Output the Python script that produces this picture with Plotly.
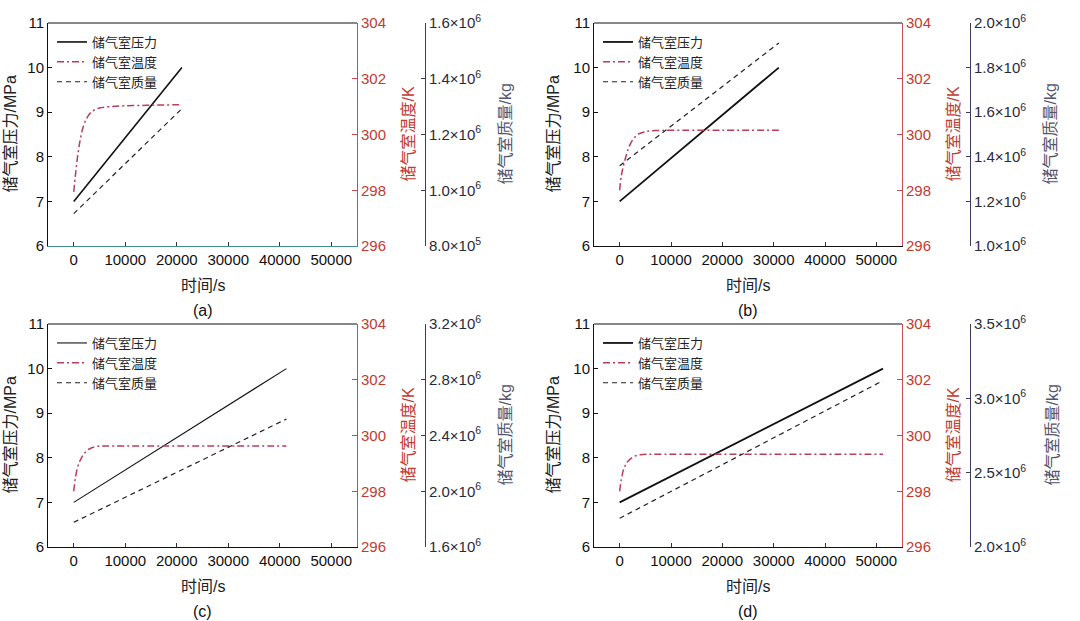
import plotly.graph_objects as go

OFF = 0
W, H = 1080, 621

# ---------------- data ----------------
panel_labels = ["(a)", "(b)", "(c)", "(d)"]

# pressure (MPa): start / end
p_time_a = [0, 21000];  p_val_a = [7.0, 10.0]
p_time_b = [0, 31000];  p_val_b = [7.0, 10.0]
p_time_c = [0, 41300];  p_val_c = [7.0, 10.0]
p_time_d = [0, 51300];  p_val_d = [7.0, 10.0]

# temperature (K)
t_time_a = [0, 300, 700, 1200, 1800, 2500, 3500, 5000, 7000, 10000, 15000, 21000]
t_val_a = [297.94, 298.5, 299.15, 299.75, 300.25, 300.58, 300.82, 300.95, 301.0, 301.03, 301.05, 301.07]
t_time_b = [0, 300, 700, 1200, 1800, 2700, 3700, 5000, 7000, 10000, 20000, 31000]
t_val_b = [298.0, 298.5, 298.85, 299.2, 299.55, 299.85, 300.02, 300.1, 300.14, 300.15, 300.15, 300.15]
t_time_c = [0, 300, 800, 1500, 2500, 3500, 4500, 6000, 10000, 20000, 41300]
t_val_c = [298.0, 298.45, 298.9, 299.2, 299.45, 299.56, 299.61, 299.62, 299.62, 299.62, 299.62]
t_time_d = [0, 300, 800, 1500, 2500, 3500, 4500, 6000, 10000, 30000, 51300]
t_val_d = [298.0, 298.4, 298.8, 299.05, 299.22, 299.29, 299.32, 299.33, 299.33, 299.33, 299.33]

# mass (kg)
m_time_a = [0, 21000];  m_val_a = [0.916e6, 1.293e6]
m_time_b = [0, 31000];  m_val_b = [1.36e6, 1.91e6]
m_time_c = [0, 41300];  m_val_c = [1.777e6, 2.518e6]
m_time_d = [0, 51300];  m_val_d = [2.193e6, 3.119e6]

x_ticks = [0, 10000, 20000, 30000, 40000, 50000]
x_tick_text = ["0", "10000", "20000", "30000", "40000", "50000"]
p_ticks = [6, 7, 8, 9, 10, 11]
t_ticks = [296, 298, 300, 302, 304]
m_ticks_a = [0.8e6, 1.0e6, 1.2e6, 1.4e6, 1.6e6]
m_text_a = ["8.0×10<sup>5</sup>", "1.0×10<sup>6</sup>", "1.2×10<sup>6</sup>", "1.4×10<sup>6</sup>", "1.6×10<sup>6</sup>"]
m_ticks_b = [1.0e6, 1.2e6, 1.4e6, 1.6e6, 1.8e6, 2.0e6]
m_text_b = ["1.0×10<sup>6</sup>", "1.2×10<sup>6</sup>", "1.4×10<sup>6</sup>", "1.6×10<sup>6</sup>", "1.8×10<sup>6</sup>", "2.0×10<sup>6</sup>"]
m_ticks_c = [1.6e6, 2.0e6, 2.4e6, 2.8e6, 3.2e6]
m_text_c = ["1.6×10<sup>6</sup>", "2.0×10<sup>6</sup>", "2.4×10<sup>6</sup>", "2.8×10<sup>6</sup>", "3.2×10<sup>6</sup>"]
m_ticks_d = [2.0e6, 2.5e6, 3.0e6, 3.5e6]
m_text_d = ["2.0×10<sup>6</sup>", "2.5×10<sup>6</sup>", "3.0×10<sup>6</sup>", "3.5×10<sup>6</sup>"]

names = ["储气室压力", "储气室温度", "储气室质量"]
x_title = "时间/s"
y1_title = "储气室压力/MPa"
y2_title = "储气室温度/K"
y3_title = "储气室质量/kg"

# ---------------- styling ----------------
FONT = "Liberation Sans, Arial, Noto Sans CJK SC, sans-serif"
RED_TXT = "#c23b30"
RED_LINE = "#c84a55"
TEMP_COL = "#b83c5c"
M_AX = "#3c3c5a"
M_TITLE = "#55556e"

panels = [
    dict(px=(p_time_a, p_val_a), tx=(t_time_a, t_val_a), mx=(m_time_a, m_val_a),
         mticks=(m_ticks_a, m_text_a), x0=48, x1=357, x3=425, top=23, bot=246,
         ttl_l=10, ttl_r=408, ttl_m=505, xline="#3f8f8f", pw=1.6),
    dict(px=(p_time_b, p_val_b), tx=(t_time_b, t_val_b), mx=(m_time_b, m_val_b),
         mticks=(m_ticks_b, m_text_b), x0=594, x1=902, x3=970, top=23, bot=246,
         ttl_l=553, ttl_r=953, ttl_m=1050, xline="#111111", pw=1.8),
    dict(px=(p_time_c, p_val_c), tx=(t_time_c, t_val_c), mx=(m_time_c, m_val_c),
         mticks=(m_ticks_c, m_text_c), x0=48, x1=357, x3=425, top=324, bot=547,
         ttl_l=10, ttl_r=408, ttl_m=505, xline="#111111", pw=1.1),
    dict(px=(p_time_d, p_val_d), tx=(t_time_d, t_val_d), mx=(m_time_d, m_val_d),
         mticks=(m_ticks_d, m_text_d), x0=594, x1=902, x3=970, top=324, bot=547,
         ttl_l=553, ttl_r=953, ttl_m=1052, xline="#111111", pw=1.8),
]

fig = go.Figure()
layout = dict(width=W, height=H, margin=dict(l=0, r=0, t=0, b=0, autoexpand=False),
              paper_bgcolor="white", plot_bgcolor="white",
              font=dict(family=FONT, size=15, color="#111"), showlegend=True)
annotations = []
shapes = []

def fx(px):
    return (px - OFF) / W

def fy(py):
    return 1 - (py - OFF) / H

for i, p in enumerate(panels):
    k = i + 1
    xid = "x" if k == 1 else f"x{k}"
    ya, yb, yc = 3 * i + 1, 3 * i + 2, 3 * i + 3
    yid = lambda n: "y" if n == 1 else f"y{n}"
    leg = "legend" if k == 1 else f"legend{k}"

    fig.add_trace(go.Scatter(x=p["px"][0], y=p["px"][1], mode="lines", name=names[0],
                             line=dict(color="#111", width=p["pw"]),
                             xaxis=xid, yaxis=yid(ya), legend=leg))
    fig.add_trace(go.Scatter(x=p["tx"][0], y=p["tx"][1], mode="lines", name=names[1],
                             line=dict(color=TEMP_COL, width=1.5, dash="7px,3px,2px,3px",
                                       shape="spline"),
                             xaxis=xid, yaxis=yid(yb), legend=leg))
    fig.add_trace(go.Scatter(x=p["mx"][0], y=p["mx"][1], mode="lines", name=names[2],
                             line=dict(color="#222", width=1.2, dash="5px,4px"),
                             xaxis=xid, yaxis=yid(yc), legend=leg))

    dom_x = [fx(p["x0"]), fx(p["x1"])]
    dom_y = [fy(p["bot"]), fy(p["top"])]
    xkey = "xaxis" if k == 1 else f"xaxis{k}"
    layout[xkey] = dict(domain=dom_x, anchor=yid(ya), range=[-5000, 55000],
                        tickvals=x_ticks, ticktext=x_tick_text,
                        ticks="inside", ticklen=4, tickcolor="#333",
                        showline=True, linecolor=p["xline"], linewidth=1,
                        showgrid=False, zeroline=False, automargin=False,
                        tickfont=dict(size=15, color="#111"))
    layout["yaxis" if ya == 1 else f"yaxis{ya}"] = dict(
        domain=dom_y, anchor=xid, range=[6, 11], tickvals=p_ticks,
        ticks="inside", ticklen=4, tickcolor="#111", showline=True, linecolor="#111",
        linewidth=1, showgrid=False, zeroline=False, automargin=False,
        tickfont=dict(size=15, color="#111"))
    layout[f"yaxis{yb}"] = dict(
        overlaying=yid(ya), anchor=xid, side="right", range=[296, 304], tickvals=t_ticks,
        ticks="inside", ticklen=5, tickcolor=RED_LINE, showline=True, linecolor=RED_LINE,
        linewidth=1, showgrid=False, zeroline=False, automargin=False,
        tickfont=dict(size=15, color=RED_TXT))
    layout[f"yaxis{yc}"] = dict(
        overlaying=yid(ya), anchor="free", position=fx(p["x3"]), side="right",
        range=[p["mticks"][0][0], p["mticks"][0][-1]],
        tickvals=p["mticks"][0], ticktext=p["mticks"][1],
        ticks="inside", ticklen=4, tickcolor=M_AX, showline=True, linecolor=M_AX,
        linewidth=1, showgrid=False, zeroline=False, automargin=False,
        tickfont=dict(size=15, color="#2a2a3a"))

    layout[leg] = dict(x=fx(p["x0"] + 4), y=fy(p["top"] + 4), xanchor="left", yanchor="top",
                       bgcolor="rgba(0,0,0,0)", borderwidth=0, tracegroupgap=0,
                       itemwidth=30, font=dict(size=13, color="#222",
                                               family="Noto Sans CJK SC, sans-serif"))

    # top frame line
    shapes.append(dict(type="line", xref=f"{xid} domain", yref=f"{yid(ya)} domain",
                       x0=0, x1=1, y0=1, y1=1, line=dict(color="#111", width=1)))

    cy = (p["top"] + p["bot"]) / 2
    cx = (p["x0"] + p["x1"]) / 2
    annotations += [
        dict(x=fx(p["ttl_l"]), y=fy(cy), xref="paper", yref="paper", text=y1_title,
             textangle=-90, showarrow=False, font=dict(size=16, color="#222"),
             xanchor="center", yanchor="middle"),
        dict(x=fx(p["ttl_r"]), y=fy(cy), xref="paper", yref="paper", text=y2_title,
             textangle=-90, showarrow=False, font=dict(size=16, color=RED_TXT),
             xanchor="center", yanchor="middle"),
        dict(x=fx(p["ttl_m"]), y=fy(cy), xref="paper", yref="paper", text=y3_title,
             textangle=-90, showarrow=False, font=dict(size=16, color=M_TITLE),
             xanchor="center", yanchor="middle"),
        dict(x=fx(cx), y=fy(p["bot"] + 39), xref="paper", yref="paper", text=x_title,
             showarrow=False, font=dict(size=16, color="#222"),
             xanchor="center", yanchor="middle"),
        dict(x=fx(cx), y=fy(p["bot"] + 64), xref="paper", yref="paper",
             text=panel_labels[i], showarrow=False, font=dict(size=16, color="#111"),
             xanchor="center", yanchor="middle"),
    ]

layout["annotations"] = annotations
layout["shapes"] = shapes
fig.update_layout(**layout)
fig.write_html("out.html", config={"displayModeBar": False},
               post_script="document.body.style.margin='0';document.body.style.overflow='hidden';")
